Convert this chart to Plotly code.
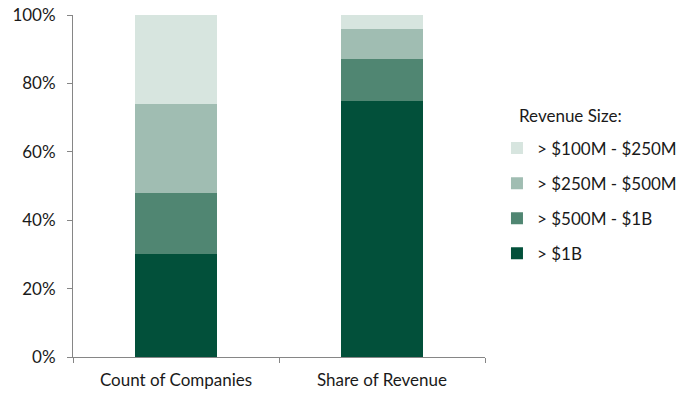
import plotly.graph_objects as go

categories = ["Count of Companies", "Share of Revenue"]
series_names = ["> $1B", "> $500M - $1B", "> $250M - $500M", "> $100M - $250M"]
count_of_companies = [30, 18, 26, 26]
share_of_revenue = [75, 12, 9, 4]
colors = ["#02503A", "#508672", "#A0BDB2", "#D7E5DF"]
y_ticks = [0, 20, 40, 60, 80, 100]
y_tick_labels = ["0%", "20%", "40%", "60%", "80%", "100%"]
legend_title = "Revenue Size:"

FONT = "Lato"
TEXT = "#1a1a1a"

fig = go.Figure()
for i, name in enumerate(series_names):
    fig.add_trace(go.Bar(
        x=categories,
        y=[count_of_companies[i], share_of_revenue[i]],
        name=name,
        marker=dict(color=colors[i], line=dict(width=0)),
        legendgroup=name,
        legendrank=len(series_names) - i,
    ))

fig.add_annotation(
    text=legend_title, xref="paper", yref="paper",
    x=1.0777, y=0.7076, xanchor="left", yanchor="middle",
    showarrow=False, font=dict(size=17, family=FONT, color=TEXT),
)

fig.update_layout(
    width=678, height=393,
    margin=dict(l=73, r=193, t=15, b=36, autoexpand=False),
    paper_bgcolor="white", plot_bgcolor="white",
    barmode="stack", bargap=0.6,
    font=dict(family=FONT, size=17, color=TEXT),
    showlegend=True,
    legend=dict(
        traceorder="grouped",
        tracegroupgap=10,
        xref="container", yref="container",
        x=0.733, xanchor="left", y=0.668, yanchor="top",
        font=dict(size=17, family=FONT, color=TEXT),
        bgcolor="rgba(0,0,0,0)",
    ),
    xaxis=dict(
        showline=True, linecolor="#868686", linewidth=1,
        ticks="outside", tickson="boundaries", ticklen=5, tickcolor="#868686",
        showgrid=False, tickfont=dict(size=17), ticklabelstandoff=8,
    ),
    yaxis=dict(
        range=[0, 100], tickvals=y_ticks, ticktext=y_tick_labels,
        showline=True, linecolor="#868686", linewidth=1,
        ticks="outside", ticklen=5, tickcolor="#868686",
        showgrid=False, zeroline=False, tickfont=dict(size=17),
        ticklabelstandoff=8,
    ),
)

fig.write_html("out.html")
